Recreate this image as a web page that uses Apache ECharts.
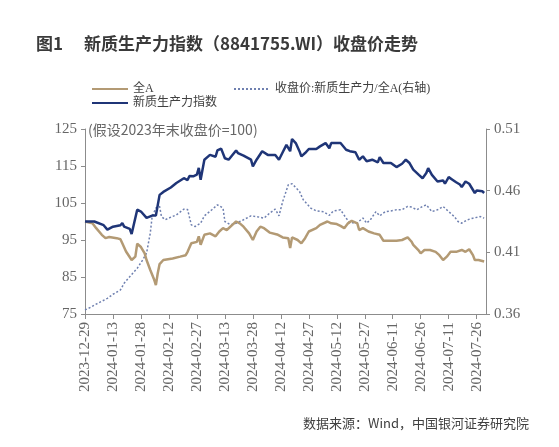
<!DOCTYPE html>
<html><head><meta charset="utf-8">
<script src="https://cdn.jsdelivr.net/npm/echarts@6/dist/echarts.min.js"></script>
<style>html,body{margin:0;padding:0;background:#fff}#c{width:559px;height:447px}</style>
</head><body><div id="c"></div>
<script>
// ---- data ----
const startDate = '2023-12-29';
const endDate = '2024-07-31';
const tickLabels = ['2023-12-29','2024-01-13','2024-01-28','2024-02-12','2024-02-27','2024-03-13','2024-03-28','2024-04-12','2024-04-27','2024-05-12','2024-05-27','2024-06-11','2024-06-26','2024-07-11','2024-07-26'];
const leftTicks = [75, 85, 95, 105, 115, 125];
const rightTicks = [0.36, 0.41, 0.46, 0.51];

const allADates = ['2023-12-29','2024-01-02','2024-01-04','2024-01-07','2024-01-09','2024-01-11','2024-01-12','2024-01-15','2024-01-17','2024-01-18','2024-01-20','2024-01-23','2024-01-25','2024-01-26','2024-01-28','2024-01-30','2024-01-31','2024-02-02','2024-02-04','2024-02-05','2024-02-06','2024-02-07','2024-02-09','2024-02-14','2024-02-18','2024-02-21','2024-02-22','2024-02-24','2024-02-27','2024-02-28','2024-02-29','2024-03-02','2024-03-05','2024-03-08','2024-03-10','2024-03-12','2024-03-14','2024-03-17','2024-03-19','2024-03-21','2024-03-23','2024-03-26','2024-03-28','2024-03-30','2024-04-01','2024-04-03','2024-04-06','2024-04-10','2024-04-13','2024-04-16','2024-04-17','2024-04-18','2024-04-21','2024-04-23','2024-04-25','2024-04-27','2024-05-01','2024-05-03','2024-05-07','2024-05-09','2024-05-10','2024-05-12','2024-05-14','2024-05-16','2024-05-18','2024-05-20','2024-05-23','2024-05-24','2024-05-26','2024-05-29','2024-06-01','2024-06-04','2024-06-06','2024-06-10','2024-06-13','2024-06-16','2024-06-19','2024-06-21','2024-06-22','2024-06-25','2024-06-26','2024-06-28','2024-06-29','2024-07-01','2024-07-04','2024-07-06','2024-07-08','2024-07-10','2024-07-12','2024-07-15','2024-07-16','2024-07-18','2024-07-20','2024-07-22','2024-07-24','2024-07-25','2024-07-27','2024-07-30'];
const allAValues = [100,99.5,98.2,96.4,95.5,95.8,95.5,95.5,95.2,94.1,91.9,89.6,90.5,94.0,93.1,91.4,89.6,86.9,84.4,82.8,86.0,88.5,89.6,90.0,90.5,90.9,91.8,94.1,94.5,96.0,93.7,96.4,96.8,96.0,97.3,98.2,97.7,99.1,100.0,99.5,98.6,96.8,95.0,97.3,98.6,98.2,97.0,96.5,95.7,95.5,92.8,95.7,95.0,94.1,95.5,97.3,98.2,99.1,100.0,99.5,99.8,99.3,98.8,98.2,99.5,100.2,99.5,97.7,98.2,97.3,96.8,96.4,94.8,94.8,94.8,95.0,95.7,94.6,93.7,92.1,91.4,92.3,91.8,92.3,91.8,90.9,89.6,90.5,91.8,91.8,91.4,92.3,91.8,92.5,90.9,89.6,89.6,89.2];

const npDates = ['2023-12-29','2024-01-03','2024-01-04','2024-01-08','2024-01-10','2024-01-13','2024-01-17','2024-01-18','2024-01-19','2024-01-22','2024-01-23','2024-01-26','2024-01-28','2024-01-31','2024-02-03','2024-02-05','2024-02-07','2024-02-09','2024-02-13','2024-02-16','2024-02-20','2024-02-22','2024-02-23','2024-02-25','2024-02-27','2024-02-28','2024-02-29','2024-03-02','2024-03-05','2024-03-08','2024-03-09','2024-03-11','2024-03-12','2024-03-13','2024-03-15','2024-03-19','2024-03-20','2024-03-23','2024-03-27','2024-03-28','2024-03-30','2024-04-02','2024-04-05','2024-04-09','2024-04-11','2024-04-13','2024-04-15','2024-04-17','2024-04-18','2024-04-20','2024-04-22','2024-04-23','2024-04-25','2024-04-27','2024-05-01','2024-05-03','2024-05-06','2024-05-08','2024-05-09','2024-05-14','2024-05-17','2024-05-19','2024-05-22','2024-05-24','2024-05-26','2024-05-28','2024-05-31','2024-06-03','2024-06-04','2024-06-06','2024-06-10','2024-06-13','2024-06-16','2024-06-18','2024-06-20','2024-06-22','2024-06-25','2024-06-27','2024-06-29','2024-06-30','2024-07-02','2024-07-05','2024-07-08','2024-07-09','2024-07-11','2024-07-13','2024-07-15','2024-07-17','2024-07-18','2024-07-20','2024-07-22','2024-07-25','2024-07-26','2024-07-29','2024-07-30'];
const npValues = [100,100,100.3,99.0,97.8,98.6,99.0,99.6,98.6,98.0,96.6,103.2,102.7,101.0,101.6,101.6,107.2,108.0,109.2,110.4,111.7,111.2,112.3,112.2,112.7,114.5,111.3,116.7,118.0,117.5,119.2,119.7,119.8,117.1,116.7,119.2,118.5,117.8,116.7,114.9,116.7,119.0,118.0,118.0,116.7,118.7,120.7,119.0,122.3,121.2,119.0,117.6,118.5,119.6,119.6,120.3,121.2,119.8,121.2,121.2,119.4,119.0,118.7,116.7,117.6,116.3,116.7,116.0,117.4,115.8,115.8,114.7,115.6,116.7,115.8,114.0,112.6,111.7,113.1,114.4,112.6,110.8,111.1,110.2,112.0,111.3,110.6,110.0,109.3,110.8,110.2,107.7,108.4,108.2,107.7];

const ratioDates = ['2023-12-29','2024-01-01','2024-01-04','2024-01-10','2024-01-13','2024-01-17','2024-01-19','2024-01-22','2024-01-26','2024-01-29','2024-01-31','2024-02-02','2024-02-03','2024-02-05','2024-02-07','2024-02-08','2024-02-10','2024-02-13','2024-02-16','2024-02-20','2024-02-22','2024-02-24','2024-02-26','2024-02-29','2024-03-02','2024-03-06','2024-03-09','2024-03-10','2024-03-12','2024-03-13','2024-03-16','2024-03-19','2024-03-23','2024-03-27','2024-03-30','2024-04-03','2024-04-06','2024-04-09','2024-04-11','2024-04-13','2024-04-16','2024-04-18','2024-04-22','2024-04-24','2024-04-28','2024-05-01','2024-05-05','2024-05-08','2024-05-10','2024-05-14','2024-05-17','2024-05-19','2024-05-23','2024-05-26','2024-05-28','2024-05-30','2024-06-02','2024-06-04','2024-06-07','2024-06-10','2024-06-13','2024-06-16','2024-06-19','2024-06-21','2024-06-24','2024-06-27','2024-06-29','2024-07-02','2024-07-05','2024-07-08','2024-07-09','2024-07-11','2024-07-14','2024-07-16','2024-07-18','2024-07-21','2024-07-24','2024-07-25','2024-07-28','2024-07-30'];
const ratioValues = [0.3633,0.3654,0.368,0.3727,0.376,0.3795,0.385,0.3903,0.3971,0.4039,0.4093,0.4256,0.439,0.4459,0.4472,0.439,0.4364,0.4385,0.4404,0.445,0.4447,0.4323,0.4309,0.4336,0.4396,0.4445,0.4485,0.4497,0.4459,0.435,0.4323,0.4336,0.4364,0.4396,0.439,0.4377,0.4418,0.445,0.4396,0.4512,0.4648,0.4656,0.4594,0.4526,0.4459,0.4436,0.4428,0.440,0.4434,0.4445,0.4378,0.434,0.434,0.4378,0.4337,0.4364,0.443,0.4396,0.443,0.4436,0.4445,0.4445,0.4472,0.4467,0.4445,0.4472,0.4485,0.443,0.4445,0.4472,0.4485,0.443,0.439,0.435,0.4336,0.4364,0.4377,0.439,0.439,0.4377];

// ---- helpers ----
function dayIndex(s){const p=s.split('-').map(Number);const b=startDate.split('-').map(Number);
  return Math.round((Date.UTC(p[0],p[1]-1,p[2])-Date.UTC(b[0],b[1]-1,b[2]))/864e5);}
function dayToStr(d){const b=startDate.split('-').map(Number);const t=new Date(Date.UTC(b[0],b[1]-1,b[2])+d*864e5);
  const m=String(t.getUTCMonth()+1).padStart(2,'0'), dd=String(t.getUTCDate()).padStart(2,'0');return t.getUTCFullYear()+'-'+m+'-'+dd;}
function pairs(ds, vs){return ds.map((d,i)=>[dayIndex(d), vs[i]]);}

const tickVals = tickLabels.map(dayIndex);
const serif = '"Liberation Serif","Times New Roman",serif';
const cjk = '"Noto Sans CJK SC","Noto Sans",sans-serif';
const axisGray = '#8c8c8c';
const labelGray = '#666666';
const legendText = {fontSize:12, color:'#404040', fontFamily:serif+','+cjk};
const legendBase = {itemWidth:36, itemHeight:8, padding:0, itemStyle:{opacity:0}, textStyle:legendText};

const chart = echarts.init(document.getElementById('c'), null, {renderer:'canvas'});
chart.setOption({
  animation:false,
  backgroundColor:'#ffffff',
  title:{text:'图1\u3000 新质生产力指数（8841755.WI）收盘价走势', left:31, top:30,
    textStyle:{fontSize:17, fontWeight:'bold', color:'#3a3a3a', fontFamily:cjk}},
  legend:[
    Object.assign({data:['全A'], left:91, top:83}, legendBase),
    Object.assign({data:['收盘价:新质生产力/全A(右轴)'], left:233, top:83}, legendBase),
    Object.assign({data:['新质生产力指数'], left:91, top:97}, legendBase)
  ],
  grid:{left:85, right:73, top:129, bottom:133, containLabel:false},
  xAxis:{type:'value', min:0, max:dayIndex(endDate), interval:15,
    splitLine:{show:false},
    axisLine:{show:true, lineStyle:{color:axisGray, width:1}},
    axisTick:{show:true, length:5, lineStyle:{color:axisGray}, customValues:tickVals},
    axisLabel:{rotate:90, fontSize:15, color:labelGray, fontFamily:serif, margin:8,
      customValues:tickVals, formatter:v=>dayToStr(v)}
  },
  yAxis:[
    {type:'value', min:leftTicks[0], max:leftTicks[leftTicks.length-1], interval:10, position:'left',
      splitLine:{show:false},
      axisLine:{show:true, lineStyle:{color:axisGray}},
      axisTick:{show:true, length:4, lineStyle:{color:axisGray}},
      axisLabel:{fontSize:15, color:labelGray, fontFamily:serif, margin:8}},
    {type:'value', min:rightTicks[0], max:rightTicks[rightTicks.length-1], interval:0.05, position:'right',
      splitLine:{show:false},
      axisLine:{show:true, lineStyle:{color:axisGray}},
      axisTick:{show:true, length:4, lineStyle:{color:axisGray}},
      axisLabel:{fontSize:15, color:labelGray, fontFamily:serif, margin:8, formatter:v=>v.toFixed(2)}}
  ],
  series:[
    {name:'全A', type:'line', yAxisIndex:0, symbol:'none', data:pairs(allADates, allAValues),
      lineStyle:{color:'#b39a74', width:2.5}, itemStyle:{color:'#b39a74'}, z:3},
    {name:'收盘价:新质生产力/全A(右轴)', type:'line', yAxisIndex:1, symbol:'none', data:pairs(ratioDates, ratioValues),
      lineStyle:{color:'#6f80b0', width:1.5, type:[2,2]}, itemStyle:{color:'#6f80b0'}, z:2},
    {name:'新质生产力指数', type:'line', yAxisIndex:0, symbol:'none', data:pairs(npDates, npValues),
      lineStyle:{color:'#1f3577', width:2.5}, itemStyle:{color:'#1f3577'}, z:4}
  ],
  graphic:[
    {type:'text', left:88, top:123, style:{text:'(假设2023年末收盘价=100)', fontSize:14, fill:'#666666', fontFamily:cjk}},
    {type:'text', right:30, top:417, style:{text:'数据来源：Wind，中国银河证券研究院', fontSize:13, fill:'#404040', fontFamily:cjk}}
  ]
});
</script></body></html>
